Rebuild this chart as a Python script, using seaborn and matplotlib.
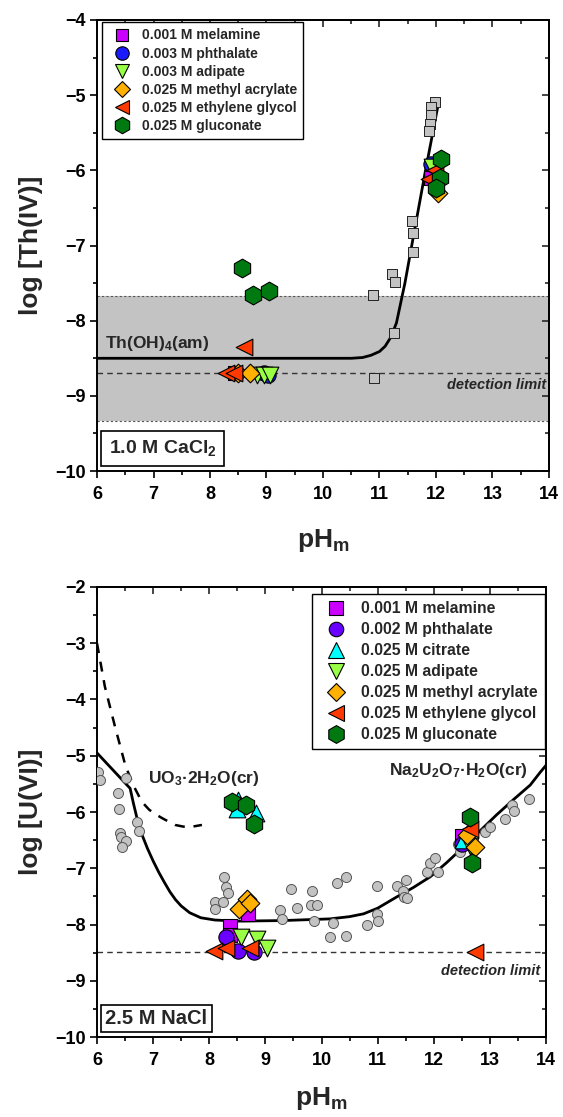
import matplotlib
matplotlib.use("Agg")
import matplotlib.pyplot as plt
from matplotlib.lines import Line2D
from matplotlib.ticker import MultipleLocator
import seaborn as sns

sns.set_theme(style="ticks")
plt.rcParams['font.family'] = ['Liberation Sans', 'DejaVu Sans']
plt.rcParams['font.weight'] = 'bold'
plt.rcParams['mathtext.fontset'] = 'custom'
plt.rcParams['mathtext.rm'] = 'Liberation Sans:bold'
plt.rcParams['mathtext.bf'] = 'Liberation Sans:bold'
plt.rcParams['mathtext.it'] = 'Liberation Sans:italic:bold'

# ---------------- Th(IV) in 1.0 M CaCl2 ----------------
th_ref_ph = [11.98, 11.92, 11.91, 11.90, 11.87, 11.57, 11.59, 11.59, 11.23, 11.27, 10.88, 11.26, 10.90]
th_ref_log = [-5.09, -5.16, -5.26, -5.38, -5.47, -6.68, -6.83, -7.09, -7.38, -7.49, -7.66, -8.17, -8.76]

th_curve_ph = [6.0, 10.5, 10.7, 10.85, 11.0, 11.1, 11.2, 11.3, 11.45, 11.6, 11.8, 12.05]
th_curve_log = [-8.5, -8.5, -8.49, -8.46, -8.41, -8.34, -8.22, -8.03, -7.5, -6.88, -6.06, -5.08]

th_melamine_ph = [8.45, 11.92]
th_melamine_log = [-8.70, -6.10]
th_phthalate_ph = [8.95, 9.02, 11.92]
th_phthalate_log = [-8.70, -8.72, -5.92]
th_adipate_ph = [8.83, 8.95, 9.07, 11.93]
th_adipate_log = [-8.72, -8.72, -8.72, -5.96]
th_acrylate_ph = [8.50, 8.71, 12.03]
th_acrylate_log = [-8.70, -8.70, -6.30]
th_glycol_ph = [8.29, 8.42, 8.60, 11.88, 11.98]
th_glycol_log = [-8.70, -8.70, -8.35, -6.12, -6.00]
th_gluconate_ph = [8.57, 8.76, 9.04, 12.08, 12.07, 12.00]
th_gluconate_log = [-7.30, -7.66, -7.61, -5.85, -6.10, -6.24]

th_band = [-9.33, -7.67]
th_detection = -8.70

th_labels = ["0.001 M melamine", "0.003 M phthalate", "0.003 M adipate",
             "0.025 M methyl acrylate", "0.025 M ethylene glycol", "0.025 M gluconate"]

# ---------------- U(VI) in 2.5 M NaCl ----------------
u_ref_ph = [6.01, 6.06, 6.51, 6.38, 6.40, 6.72, 6.75, 6.41, 6.42, 6.51, 6.45,
            8.26, 8.30, 8.33, 8.10, 8.24, 8.11, 9.26, 9.30, 9.45, 9.56, 9.83, 9.81,
            9.92, 9.87, 10.27, 10.44, 10.20, 10.16, 10.44, 10.81, 10.98, 10.99, 11.01,
            11.34, 11.45, 11.51, 11.47, 11.53, 11.88, 11.94, 12.02, 12.07, 12.44, 12.46,
            12.92, 13.00, 13.27, 13.39, 13.43, 13.69]
u_ref_log = [-5.29, -5.43, -5.40, -5.67, -5.95, -6.18, -6.34, -6.37, -6.45, -6.51, -6.63,
             -7.16, -7.33, -7.44, -7.60, -7.60, -7.73, -7.74, -7.91, -7.36, -7.70, -7.40, -7.66,
             -7.65, -7.93, -7.26, -7.15, -7.97, -8.22, -8.21, -8.00, -7.31, -7.81, -7.94,
             -7.32, -7.41, -7.21, -7.51, -7.53, -7.06, -6.91, -6.82, -7.07, -6.56, -6.71,
             -6.35, -6.27, -6.12, -5.88, -5.98, -5.77]

u_na_ph = [6.0, 6.3, 6.59, 6.65, 6.72, 6.8, 6.9, 7.0, 7.1, 7.2, 7.3, 7.4, 7.5, 7.65,
           7.85, 8.1, 8.5, 9.3, 10.15, 10.5, 10.75, 11.0, 11.34, 11.64, 11.94, 12.23,
           12.53, 12.82, 13.12, 13.42, 13.72, 13.9, 14.0]
u_na_log = [-4.95, -5.27, -5.58, -5.85, -6.14, -6.40, -6.65, -6.87, -7.07, -7.25, -7.42,
            -7.56, -7.67, -7.79, -7.88, -7.92, -7.94, -7.93, -7.90, -7.86, -7.81, -7.71,
            -7.51, -7.34, -7.15, -6.90, -6.62, -6.34, -6.05, -5.78, -5.52, -5.29, -5.17]

u_uo3_ph = [6.0, 6.14, 6.32, 6.51, 6.66, 6.80, 6.93, 7.06, 7.18, 7.39, 7.54, 7.70, 7.87]
u_uo3_log = [-3.0, -3.77, -4.48, -5.19, -5.55, -5.82, -5.96, -6.05, -6.12, -6.23, -6.26,
             -6.26, -6.23]

u_melamine_ph = [8.37, 8.37, 8.69, 12.50]
u_melamine_log = [-8.02, -8.18, -7.82, -6.42]
u_phthalate_ph = [8.30, 8.52, 8.79, 12.51]
u_phthalate_log = [-8.22, -8.47, -8.49, -6.56]
u_citrate_ph = [8.52, 8.50, 8.84, 12.53]
u_citrate_log = [-5.78, -5.95, -6.02, -6.50]
u_adipate_ph = [8.56, 8.85, 9.03, 12.65]
u_adipate_log = [-8.23, -8.25, -8.42, -6.60]
u_acrylate_ph = [8.53, 8.68, 8.73, 12.59, 12.74]
u_acrylate_log = [-7.72, -7.55, -7.62, -6.41, -6.62]
u_glycol_ph = [8.09, 8.30, 8.72, 12.65, 12.74]
u_glycol_log = [-8.47, -8.41, -8.41, -6.31, -8.48]
u_gluconate_ph = [8.40, 8.66, 8.80, 12.65, 12.68]
u_gluconate_log = [-5.82, -5.88, -6.21, -6.09, -6.90]

u_detection = -8.48

u_labels = ["0.001 M melamine", "0.002 M phthalate", "0.025 M citrate", "0.025 M adipate",
            "0.025 M methyl acrylate", "0.025 M ethylene glycol", "0.025 M gluconate"]

# marker styles (marker, face colour, size in pt)
st_melamine = ('s', '#CC00FF', 10)
st_phthalate_th = ('o', '#1A1AFF', 11)
st_phthalate_u = ('o', '#6A00FF', 11)
st_citrate = ('^', '#00FFFF', 12)
st_adipate = ('v', '#99FF44', 12)
st_acrylate = ('D', '#FFB000', 9.5)
st_glycol = ('<', '#FF3A00', 12)
st_gluconate = ('h', '#007A10', 13.5)


def points(ax, ph, logc, style, z=4, edge='black', lw=0.8):
    m, c, ms = style
    sns.scatterplot(x=ph, y=logc, ax=ax, marker=m, s=ms ** 2, color=c,
                    edgecolor=edge, linewidth=lw, zorder=z, legend=False)


def handle(style, scale=0.88):
    m, c, ms = style
    return Line2D([], [], ls='', marker=m, markersize=ms * scale,
                  markerfacecolor=c, markeredgecolor='black', markeredgewidth=0.8)


def frame(ax, ylo, yhi, xpad):
    ax.set_xlim(6, 14)
    ax.set_ylim(ylo, yhi)
    ax.xaxis.set_major_locator(MultipleLocator(1))
    ax.xaxis.set_minor_locator(MultipleLocator(0.5))
    ax.yaxis.set_major_locator(MultipleLocator(1))
    ax.yaxis.set_minor_locator(MultipleLocator(0.5))
    for s in ax.spines.values():
        s.set_linewidth(1.4)
        s.set_color('black')
    ax.tick_params(which='both', direction='out', width=1.2, colors='black',
                   labelsize=13)
    ax.tick_params(axis='x', pad=6)
    ax.tick_params(axis='y', pad=3)
    ax.tick_params(which='major', length=5)
    ax.tick_params(which='minor', length=3)
    # mirrored axes on top and right with inward ticks
    top = ax.secondary_xaxis('top')
    top.xaxis.set_major_locator(MultipleLocator(1))
    top.xaxis.set_minor_locator(MultipleLocator(0.5))
    top.tick_params(which='both', direction='in', width=1.2, labeltop=False)
    top.tick_params(which='major', length=5)
    top.tick_params(which='minor', length=3)
    top.spines['top'].set_linewidth(1.4)
    right = ax.secondary_yaxis('right')
    right.yaxis.set_major_locator(MultipleLocator(1))
    right.yaxis.set_minor_locator(MultipleLocator(0.5))
    right.tick_params(which='both', direction='in', width=1.2, labelright=False)
    right.tick_params(which='major', length=5)
    right.tick_params(which='minor', length=3)
    right.spines['right'].set_linewidth(1.4)
    ax.set_xlabel(r'pH$_\mathbf{m}$', fontsize=19, fontweight='bold', labelpad=xpad)


fig = plt.figure(figsize=(5.63, 11.17), dpi=100)
ax1 = fig.add_axes([0.1723, 0.5783, 0.8028, 0.4038])
ax2 = fig.add_axes([0.1723, 0.0716, 0.7975, 0.4029])

# ---- upper panel ----
ax1.axhspan(th_band[0], th_band[1], facecolor='#C3C3C3', edgecolor='none', zorder=0)
for yb in th_band:
    ax1.axhline(yb, color='#555555', lw=0.8, ls=(0, (2, 2)), zorder=1)
ax1.axhline(th_detection, color='#333333', lw=1.0, ls=(0, (4, 3)), zorder=1)
sns.lineplot(x=th_curve_ph, y=th_curve_log, ax=ax1, color='black', lw=2.0,
             sort=False, estimator=None, zorder=2)
points(ax1, th_ref_ph, th_ref_log, ('s', '#C3C3C3', 6.8), z=3, edge='#222222', lw=0.7)
th_sets = [(th_melamine_ph, th_melamine_log, st_melamine),
           (th_phthalate_ph, th_phthalate_log, st_phthalate_th),
           (th_adipate_ph, th_adipate_log, st_adipate),
           (th_acrylate_ph, th_acrylate_log, st_acrylate),
           (th_glycol_ph, th_glycol_log, st_glycol),
           (th_gluconate_ph, th_gluconate_log, st_gluconate)]
for ph, lg, stl in th_sets:
    points(ax1, ph, lg, stl)

frame(ax1, -10, -4, 17)
ax1.set_ylabel('log [Th(IV)]', fontsize=19, fontweight='bold', labelpad=9)
ax1.text(6.14, -8.30, r'Th(OH)$_\mathbf{4}$(am)', fontsize=12.5, fontweight='bold',
         ha='left', va='center', zorder=5)
ax1.text(13.95, -8.85, 'detection limit', fontsize=10.5, fontweight='bold',
         fontstyle='italic', ha='right', va='center', zorder=5)
ax1.text(0.026, 0.028, r'1.0 M CaCl$_\mathbf{2}$', transform=ax1.transAxes, fontsize=14,
         fontweight='bold', ha='left', va='bottom', zorder=6,
         bbox=dict(boxstyle='square,pad=0.4', fc='white', ec='black', lw=1.2))
leg1 = ax1.legend([handle(s[2]) for s in th_sets], th_labels, loc='upper left',
                  bbox_to_anchor=(0.011, 0.995), borderaxespad=0, frameon=True,
                  fancybox=False, edgecolor='black', framealpha=1,
                  prop={'weight': 'bold', 'size': 10}, handlelength=2.0,
                  handletextpad=0.4, labelspacing=0.29, borderpad=0.45)
leg1.get_frame().set_linewidth(1.0)

# ---- lower panel ----
ax2.axhline(u_detection, color='#333333', lw=1.0, ls=(0, (4, 3)), zorder=1)
sns.lineplot(x=u_na_ph, y=u_na_log, ax=ax2, color='black', lw=2.0,
             sort=False, estimator=None, zorder=2)
sns.lineplot(x=u_uo3_ph, y=u_uo3_log, ax=ax2, color='black', lw=1.8,
             sort=False, estimator=None, zorder=2, ls=(0, (4, 3.5)))
points(ax2, u_ref_ph, u_ref_log, ('o', '#C3C3C3', 7.2), z=3, edge='#555555', lw=0.7)
u_sets = [(u_melamine_ph, u_melamine_log, st_melamine),
          (u_phthalate_ph, u_phthalate_log, st_phthalate_u),
          (u_citrate_ph, u_citrate_log, st_citrate),
          (u_adipate_ph, u_adipate_log, st_adipate),
          (u_acrylate_ph, u_acrylate_log, st_acrylate),
          (u_glycol_ph, u_glycol_log, st_glycol),
          (u_gluconate_ph, u_gluconate_log, st_gluconate)]
for ph, lg, stl in u_sets:
    points(ax2, ph, lg, stl)

frame(ax2, -10, -2, 11)
ax2.set_ylabel('log [U(VI)]', fontsize=19, fontweight='bold', labelpad=9)
ax2.text(6.91, -5.40, r'UO$_\mathbf{3}$·2H$_\mathbf{2}$O(cr)', fontsize=12.5,
         fontweight='bold', ha='left', va='center', zorder=5)
ax2.text(13.68, -5.26, r'Na$_\mathbf{2}$U$_\mathbf{2}$O$_\mathbf{7}$·H$_\mathbf{2}$O(cr)',
         fontsize=12.5, fontweight='bold', ha='right', va='center', zorder=5)
ax2.text(13.9, -8.83, 'detection limit', fontsize=10.5, fontweight='bold',
         fontstyle='italic', ha='right', va='center', zorder=5)
ax2.text(0.018, 0.02, '2.5 M NaCl', transform=ax2.transAxes, fontsize=14.5,
         fontweight='bold', ha='left', va='bottom', zorder=6,
         bbox=dict(boxstyle='square,pad=0.22', fc='white', ec='black', lw=1.2))
leg2 = ax2.legend([handle(s[2], 0.95) for s in u_sets], u_labels, loc='upper right',
                  bbox_to_anchor=(0.998, 0.984), borderaxespad=0, frameon=True,
                  fancybox=False, edgecolor='black', framealpha=1,
                  prop={'weight': 'bold', 'size': 11.3}, handlelength=2.1,
                  handletextpad=0.6, labelspacing=0.38, borderpad=0.45)
leg2.get_frame().set_linewidth(1.0)

fig.savefig('out.png', dpi=100)
